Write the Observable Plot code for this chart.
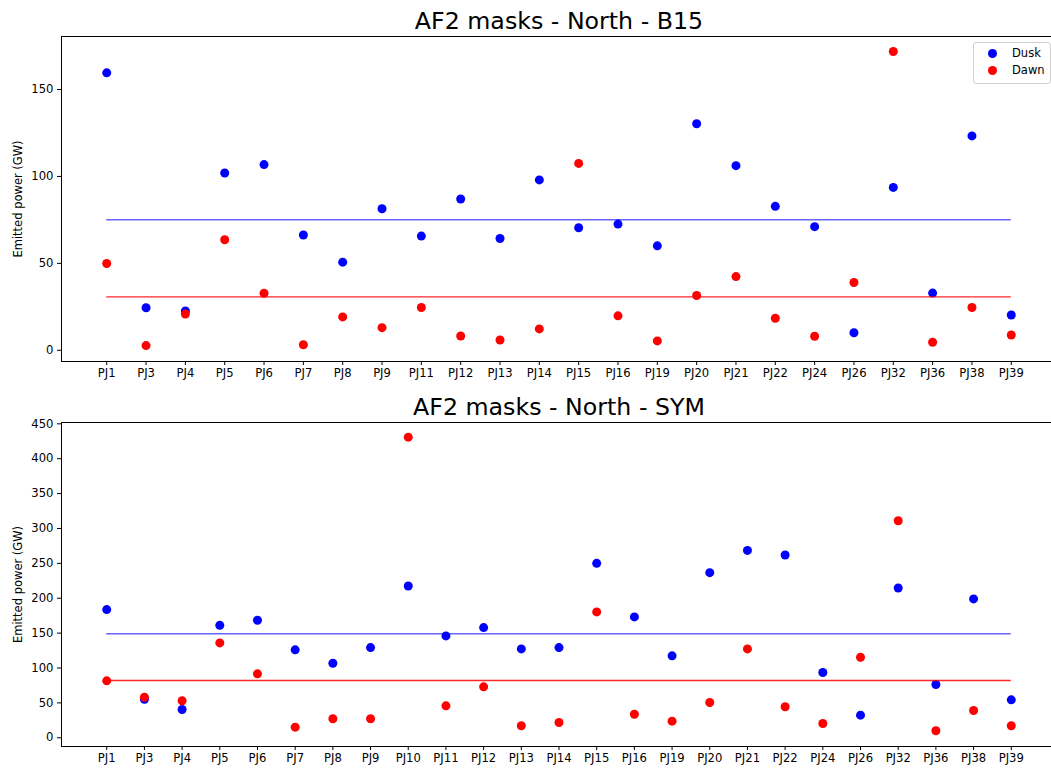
<!DOCTYPE html>
<html>
<head>
<meta charset="utf-8">
<script src="https://cdn.jsdelivr.net/npm/d3@7"></script>
<script src="https://cdn.jsdelivr.net/npm/@observablehq/plot@0.6"></script>
<style>
  html, body { margin: 0; padding: 0; overflow: hidden; background: #fff; }
  #wrap { position: relative; width: 1051px; height: 769px; overflow: hidden; font-family: "DejaVu Sans", sans-serif; }
  #wrap svg { display: block; max-width: none !important; }
  .legend { position: absolute; left: 973px; top: 42px; width: 76px; height: 40px; border: 1px solid #d0d0d0; border-radius: 3px; background: rgba(255,255,255,0.85); font-size: 11.5px; color: #000; }
  .legend .dot { position: absolute; width: 9px; height: 9px; border-radius: 50%; }
  .legend .lab { position: absolute; line-height: 14px; }
</style>
</head>
<body>
<div id="wrap"></div>
<script>
// ---- Data ----
const b15Cats = ["PJ1","PJ3","PJ4","PJ5","PJ6","PJ7","PJ8","PJ9","PJ11","PJ12","PJ13","PJ14","PJ15","PJ16","PJ19","PJ20","PJ21","PJ22","PJ24","PJ26","PJ32","PJ36","PJ38","PJ39"];
const b15Dusk = [159.6,24.5,22.6,102.0,106.8,66.3,50.7,81.4,65.7,87.0,64.3,98.0,70.5,72.6,60.1,130.3,106.2,82.8,71.1,10.1,93.7,32.9,123.3,20.3];
const b15Dawn = [49.9,2.7,20.9,63.6,32.8,3.2,19.2,13.0,24.6,8.2,5.9,12.3,107.5,19.8,5.4,31.5,42.4,18.4,8.1,39.0,171.9,4.6,24.6,8.8];

const symCats = ["PJ1","PJ3","PJ4","PJ5","PJ6","PJ7","PJ8","PJ9","PJ10","PJ11","PJ12","PJ13","PJ14","PJ15","PJ16","PJ19","PJ20","PJ21","PJ22","PJ24","PJ26","PJ32","PJ36","PJ38","PJ39"];
const symDusk = [183.7,55.3,40.5,161.2,168.4,126.0,106.8,129.3,217.6,146.0,157.9,127.4,129.3,250.0,173.2,117.4,236.7,268.6,262.0,93.5,32.4,214.7,76.3,199.0,54.4];
const symDawn = [81.6,58.1,53.0,136.0,91.6,15.2,27.2,27.2,430.9,45.8,73.0,17.2,21.9,180.4,33.8,23.8,50.5,127.4,44.4,20.5,115.4,311.0,10.0,39.1,17.2];

const b15Ticks = [0, 50, 100, 150];
const symTicks = [0, 50, 100, 150, 200, 250, 300, 350, 400, 450];

const seriesNames = ["Dusk", "Dawn"];
const seriesColors = ["#0000ff", "#ff0000"];

const titles = ["AF2 masks - North - B15", "AF2 masks - North - SYM"];
const yLabel = "Emitted power (GW)";

function panel({cats, dusk, dawn, title, yDomain, yTicks, height, marginTop, marginBottom, pad}) {
  const rows = [];
  cats.forEach((c, i) => {
    rows.push({pj: c, v: dusk[i], s: seriesNames[0]});
  });
  cats.forEach((c, i) => {
    rows.push({pj: c, v: dawn[i], s: seriesNames[1]});
  });
  const means = [d3.mean(dusk), d3.mean(dawn)];
  return Plot.plot({
    width: 1056,
    height,
    marginLeft: 61,
    marginRight: 0,
    marginTop,
    marginBottom,
    style: {fontFamily: "DejaVu Sans, sans-serif", fontSize: "11.6px", color: "#000", background: "#fff", overflow: "visible", maxWidth: "none"},
    x: {type: "point", domain: cats, padding: pad, round: false, label: null, tickSize: 4, tickPadding: 3},
    y: {domain: yDomain, ticks: yTicks, label: null, tickSize: 4, tickPadding: 4},
    color: {domain: seriesNames, range: seriesColors},
    marks: [
      Plot.frame({stroke: "#000", strokeWidth: 1}),
      Plot.dot(rows, {x: "pj", y: "v", fill: "s", r: 4.5, stroke: null}),
      Plot.ruleY([means[0]], {x1: () => cats[0], x2: () => cats[cats.length - 1], stroke: seriesColors[0], strokeOpacity: 0.6, strokeWidth: 1.5}),
      Plot.ruleY([means[1]], {x1: () => cats[0], x2: () => cats[cats.length - 1], stroke: seriesColors[1], strokeOpacity: 0.85, strokeWidth: 1.3}),
      Plot.text([title], {frameAnchor: "top", dy: -8, lineAnchor: "bottom", fontSize: 23.7, fill: "#000"}),
      Plot.text([yLabel], {frameAnchor: "left", dx: -43.5, rotate: -90, lineAnchor: "middle", textAnchor: "middle", fontSize: 11.5, fill: "#000"})
    ]
  });
}

const wrap = document.getElementById("wrap");
wrap.appendChild(panel({cats: b15Cats, dusk: b15Dusk, dawn: b15Dawn, title: titles[0], yDomain: [-6.45, 180.5], yTicks: b15Ticks, height: 385, marginTop: 36, marginBottom: 24, pad: 1.15}));
wrap.appendChild(panel({cats: symCats, dusk: symDusk, dawn: symDawn, title: titles[1], yDomain: [-12.5, 451.9], yTicks: symTicks, height: 384, marginTop: 37, marginBottom: 23, pad: 1.2}));

// Legend (top panel, upper right)
const leg = document.createElement("div");
leg.className = "legend";
seriesNames.forEach((name, i) => {
  const d = document.createElement("div");
  d.className = "dot";
  d.style.background = seriesColors[i];
  d.style.left = (18.7 - 4.5) + "px";
  d.style.top = (10.7 + i * 16.6 - 4.5) + "px";
  leg.appendChild(d);
  const t = document.createElement("div");
  t.className = "lab";
  t.textContent = name;
  t.style.left = "38px";
  t.style.top = (10.7 + i * 16.6 - 7.5) + "px";
  leg.appendChild(t);
});
wrap.appendChild(leg);
</script>
</body>
</html>
